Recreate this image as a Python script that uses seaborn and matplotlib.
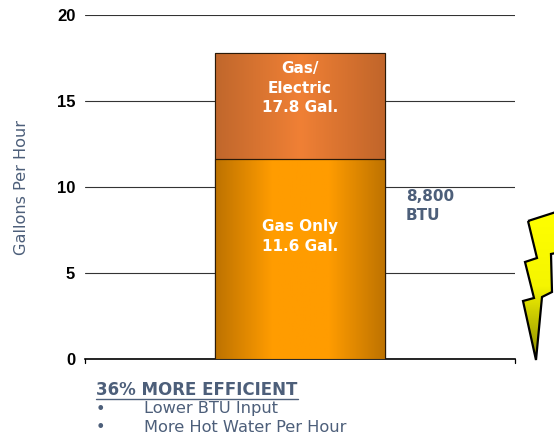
import numpy as np
import pandas as pd
import seaborn as sns
import matplotlib.pyplot as plt
from matplotlib.colors import LinearSegmentedColormap
from matplotlib.patches import Polygon

W, H = 554, 437
categories = ["Heater"]
gas_only = [11.6]
gas_electric = [17.8]
y_ticks = [0, 5, 10, 15, 20]
gas_only_label = "Gas Only\n11.6 Gal."
gas_electric_label = "Gas/\nElectric\n17.8 Gal."
btu_label = "8,800\nBTU"
ylabel = "Gallons Per Hour"
note_title = "36% MORE EFFICIENT"
note_items = ["Lower BTU Input", "More Hot Water Per Hour"]

SLATE = "#4d5f7a"

sns.set_theme(style="white")
plt.rcParams["font.family"] = ["DejaVu Sans"]

fig = plt.figure(figsize=(W / 100, H / 100), dpi=100)
ax = fig.add_axes([85 / W, 1 - 359 / H, 430 / W, 344 / H])

df = pd.DataFrame({"cat": categories, "gas": gas_only, "total": gas_electric})
# total goes first, gas only is drawn over it
sns.barplot(df, x="cat", y="total", color="#f08035", width=0.397, saturation=1,
            edgecolor="#2a1a08", linewidth=0.8, ax=ax, zorder=3)
sns.barplot(df, x="cat", y="gas", color="#ff9c00", width=0.397, saturation=1,
            edgecolor="#2a1a08", linewidth=0.8, ax=ax, zorder=3)
ax.set_xlim(-0.5, 0.5)
ax.set_ylim(0, 20)

# gradient fill on the two bars, clipped to the patches
top_bar, low_bar = ax.patches[0], ax.patches[1]
top_cmap = LinearSegmentedColormap.from_list("top", ["#c0672c", "#f08035", "#c0652a"])
low_cmap = LinearSegmentedColormap.from_list("low", ["#bd7200", "#ff9c00", "#ff9c00", "#bd7200"])
for bar, cmap, low, high in [(top_bar, top_cmap, gas_only[0], gas_electric[0]),
                             (low_bar, low_cmap, 0, gas_only[0])]:
    x0 = bar.get_x()
    im = ax.imshow(np.linspace(0, 1, 256).reshape(1, -1), cmap=cmap, aspect="auto",
                   extent=(x0, x0 + bar.get_width(), low, high), zorder=3.5)
    im.set_clip_path(bar)
    outline = plt.Rectangle((x0, low), bar.get_width(), high - low, fill=False,
                            edgecolor="#2a1a08", linewidth=0.8, zorder=4)
    ax.add_patch(outline)
ax.set_xlim(-0.5, 0.5)
ax.set_ylim(0, 20)

ax.yaxis.grid(True, color="#333333", linewidth=0.8)
ax.set_axisbelow(True)
ax.set_yticks(y_ticks)
ax.set_yticklabels(y_ticks, fontfamily="Liberation Sans", fontweight="bold",
                   fontsize=12, color="black")
ax.tick_params(axis="y", length=0, pad=7)
ax.set_xlabel("")
ax.set_ylabel("")
ax.set_xticks([])
sns.despine(ax=ax, top=True, right=True, left=True, bottom=False)
ax.spines["bottom"].set_color("black")
ax.spines["bottom"].set_linewidth(1.2)

# little end ticks under the baseline
for xa in (0, 1):
    ax.plot([xa, xa], [0, -0.012], transform=ax.transAxes, color="black",
            linewidth=0.9, clip_on=False)

ax.text(0, 7.1, gas_only_label, ha="center", va="center", color="white",
        fontweight="bold", fontsize=11, linespacing=1.4, zorder=5)
ax.text(0, 15.75, gas_electric_label, ha="center", va="center", color="white",
        fontweight="bold", fontsize=11, linespacing=1.4, zorder=5)


def px(x, y):
    return x / W, 1 - y / H


fig.text(*px(406, 206), btu_label, ha="left", va="center", color=SLATE,
         fontweight="bold", fontsize=11, linespacing=1.35)
fig.text(*px(22, 188), ylabel, rotation=90, ha="center", va="center", color=SLATE, fontsize=11.6)

fig.text(*px(96, 390), note_title, ha="left", va="center", color=SLATE, fontweight="bold",
         fontsize=12)
fig.add_artist(plt.Line2D([96 / W, 298 / W], [1 - 398.5 / H, 1 - 398.5 / H], color=SLATE, linewidth=1))
for item, yp in zip(note_items, [409, 428]):
    fig.text(*px(96, yp), "•", ha="left", va="center", color=SLATE, fontsize=11.7)
    fig.text(*px(144, yp), item, ha="left", va="center", color=SLATE, fontsize=11.7)

# lightning bolt decoration, outside the plot area
bolt_px = [(528, 221), (556, 212), (556, 253), (551, 254), (552, 292), (542, 297),
           (536, 360), (523, 301), (534, 298), (525, 262), (537, 258)]
bolt_xy = [px(x, y) for x, y in bolt_px]
bolt_ax = fig.add_axes([0, 0, 1, 1], facecolor="none", zorder=6)
bolt_ax.set_xlim(0, 1)
bolt_ax.set_ylim(0, 1)
bolt_ax.axis("off")
bolt = Polygon(bolt_xy, closed=True, facecolor="none", edgecolor="black", linewidth=1.6,
               joinstyle="miter", transform=bolt_ax.transAxes, zorder=3)
bolt_ax.add_patch(bolt)
bolt_cmap = LinearSegmentedColormap.from_list("bolt", ["#ffff00", "#f5f500", "#8a8a00"])
grad = bolt_ax.imshow(np.linspace(0, 1, 256).reshape(-1, 1), cmap=bolt_cmap, aspect="auto",
                      extent=(520 / W, 556 / W, 1 - 360 / H, 1 - 212 / H), zorder=2)
grad.set_clip_path(bolt)
bolt_ax.set_xlim(0, 1)
bolt_ax.set_ylim(0, 1)

fig.savefig("out.png", dpi=100)
